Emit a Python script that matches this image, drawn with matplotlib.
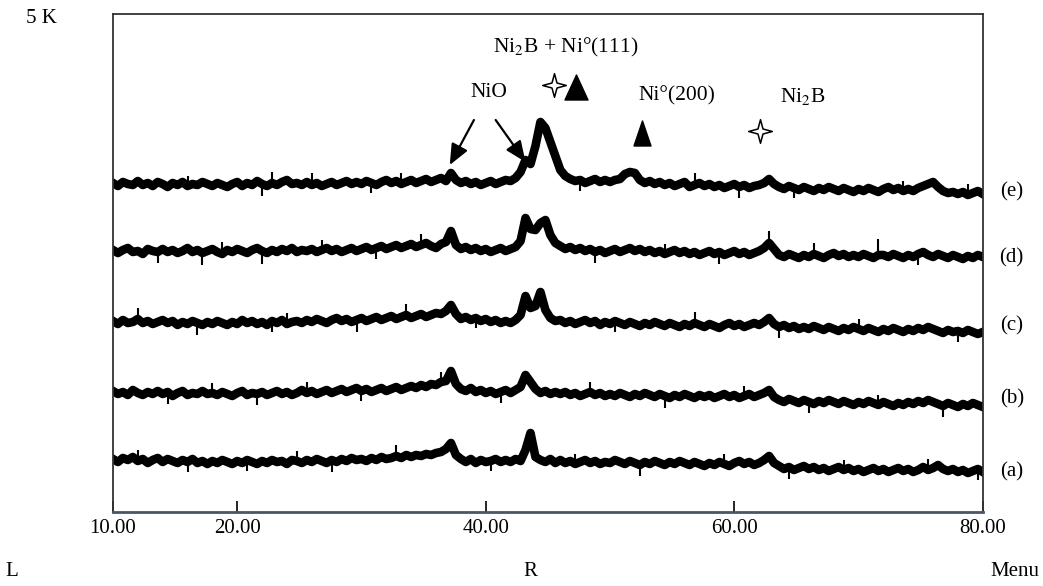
import matplotlib.pyplot as plt
from matplotlib.path import Path
import numpy as np

plt.rcParams['font.family'] = ['Liberation Serif', 'DejaVu Serif']
plt.rcParams['mathtext.fontset'] = 'stix'

# 2-theta scan positions (0.4 deg step)
two_theta = np.round(np.arange(10.0, 80.01, 0.4), 1)

pattern_labels = ['(a)', '(b)', '(c)', '(d)', '(e)']
baselines = [52, 119, 190, 261, 328]   # stacking offset of each pattern (a.u.)

# intensities, relative to each pattern's baseline (a.u.)
counts_a = [1, -2, 2, 0, 3, -1, 1, -3, 0, 2,
            -2, 1, -1, -3, 0, -2, 1, -3, -1, -4,
            -1, -3, 0, -2, -4, -1, -3, 0, -2, -4,
            -1, -3, 0, -2, -1, -4, 0, -1, -3, 0,
            -2, 1, -1, -3, 0, -2, 1, -1, 2, 0,
            1, -1, 2, 0, 3, 1, 2, 4, 2, 5,
            3, 5, 4, 6, 5, 7, 8, 11, 17, 5,
            1, -2, 1, -3, 0, -2, -1, 1, -2, 0,
            -2, 1, -1, 10, 27, 3, 0, -2, 1, -3,
            0, -3, -1, -4, -2, 0, -3, -1, -4, -2,
            -3, 0, -2, -4, -1, -3, -5, -2, -4, -1,
            -3, -5, -2, -4, -1, -3, -5, -2, -4, -6,
            -3, -5, -2, -4, -6, -3, -1, -4, -2, -5,
            -3, 0, 4, -3, -6, -9, -7, -10, -8, -6,
            -9, -7, -10, -8, -11, -9, -7, -10, -8, -11,
            -9, -12, -10, -8, -11, -9, -12, -10, -8, -11,
            -9, -12, -10, -7, -10, -8, -5, -9, -11, -9,
            -12, -10, -13, -11, -9, -12]

counts_b = [2, -1, 1, -2, 3, 0, -2, 1, -1, 2,
            -1, 1, -3, 0, 2, -2, 0, -1, 2, -1,
            0, -2, 1, -1, -3, 0, 2, -2, 0, -1,
            1, -2, 0, 2, -1, 1, -2, 0, 3, 0,
            2, -1, 1, 3, 0, 2, 4, 1, 3, 5,
            2, 4, 1, 3, 5, 2, 4, 6, 3, 5,
            7, 5, 8, 6, 9, 8, 11, 12, 22, 9,
            4, 2, 5, 1, 3, 0, 2, -1, 1, 3,
            0, 3, 6, 18, 11, 4, 0, 2, -1, 1,
            -1, 1, -2, 0, -3, -1, 1, -2, 0, -3,
            -1, -3, 0, -2, -4, -1, -3, 0, -2, -4,
            -1, -3, -5, -2, -4, -1, -3, -5, -2, -4,
            -2, -5, -3, -1, -4, -2, -5, -3, -1, -4,
            -2, 0, 3, -4, -7, -9, -6, -8, -10, -7,
            -9, -11, -8, -10, -7, -9, -11, -8, -10, -12,
            -9, -11, -8, -10, -12, -9, -11, -13, -10, -12,
            -9, -11, -8, -10, -7, -9, -11, -13, -10, -12,
            -14, -11, -13, -10, -12, -14]

counts_c = [1, -2, 2, -1, 0, 3, -1, 1, -2, 0,
            2, -1, 1, -3, 0, -2, 1, -1, -3, 0,
            -2, 1, -1, -3, 0, -2, 2, -1, 1, -2,
            0, -3, 1, -1, 2, -2, 0, 1, -1, 2,
            0, 3, 1, -1, 2, 4, 1, 3, 0, 2,
            4, 1, 3, 5, 2, 4, 6, 3, 5, 7,
            4, 6, 8, 5, 7, 9, 8, 11, 17, 8,
            3, 5, 2, 4, 1, 3, 0, 2, -1, 1,
            -1, 2, 7, 26, 14, 16, 30, 12, 4, 1,
            2, -1, 1, -2, 0, 2, -1, 1, -3, 0,
            -2, 1, -1, -3, 0, -2, -4, -1, -3, 0,
            -2, -4, -1, -3, -5, -2, -4, -1, -3, -5,
            -2, -4, -6, -3, -1, -4, -2, -5, -3, -1,
            -3, 0, 4, -2, -5, -3, -6, -4, -7, -5,
            -7, -4, -6, -8, -5, -7, -9, -6, -8, -5,
            -7, -9, -6, -8, -10, -7, -9, -6, -8, -10,
            -7, -9, -6, -8, -5, -7, -9, -11, -8, -10,
            -9, -11, -8, -10, -12, -10]

counts_d = [1, -2, 1, 3, -1, 0, -3, 2, 0, -1,
            2, -1, 1, -2, 0, 3, -1, 1, -2, 0,
            2, -1, -3, 1, -1, 2, 0, -2, 1, 3,
            0, -2, 1, -1, 2, 0, 3, -1, 1, 0,
            2, -1, 1, 3, 0, 2, -1, 1, 3, 0,
            2, 4, 1, 3, 5, 2, 4, 6, 3, 5,
            7, 4, 6, 8, 5, 3, 7, 9, 20, 6,
            2, 4, 1, 3, 0, 2, -1, 1, 3, 0,
            2, 4, 10, 33, 22, 21, 28, 31, 16, 8,
            5, 2, 4, 1, 3, 0, 2, -1, 1, -2,
            0, 2, -1, 1, 3, 0, 2, -1, 1, -2,
            0, -3, -1, 1, -2, 0, -3, -1, -4, -2,
            0, -3, -1, -4, -2, 0, -3, -1, -4, -2,
            0, 3, 8, 2, -4, -6, -3, -5, -7, -4,
            -6, -3, -5, -7, -4, -2, -5, -3, -6, -4,
            -6, -3, -5, -7, -4, -4, -6, -3, -5, -7,
            -4, -6, -3, -1, -4, -6, -3, -5, -7, -4,
            -6, -8, -5, -7, -4, -6]

counts_e = [1, -2, 2, 0, -1, 3, -1, 1, -2, 2,
            0, -3, 1, -1, 2, -2, 0, -1, 2, 0,
            -2, 1, -1, -3, 0, 2, -2, 1, -1, 3,
            0, -2, 1, -1, 2, 4, 0, 1, -1, 2,
            -1, 1, -2, 0, 2, -1, 1, 3, 0, 2,
            0, 3, 1, -1, 2, 4, 1, 3, 0, 2,
            4, 1, 3, 5, 2, 4, 6, 3, 11, 4,
            1, 3, 0, 2, -1, 1, 3, 0, 2, 4,
            3, 6, 12, 24, 20, 38, 62, 56, 42, 28,
            14, 8, 5, 3, 4, 1, 3, 5, 2, 4,
            2, 4, 5, 10, 12, 11, 4, 1, 3, 0,
            2, -1, 1, -2, 0, 2, -3, -1, 1, -2,
            0, -3, -1, -4, -2, 0, -3, -1, -4, -2,
            -1, 1, 5, 0, -3, -5, -2, -4, -6, -3,
            -5, -7, -4, -6, -3, -5, -7, -4, -6, -8,
            -5, -7, -4, -6, -8, -5, -3, -6, -4, -7,
            -5, -7, -4, -2, 0, 2, -3, -7, -9, -8,
            -10, -8, -11, -9, -7, -10]

patterns = [counts_a, counts_b, counts_c, counts_d, counts_e]

# isolated noise spikes seen on each scan: 2-theta and spike length (a.u.)
spike_pos = [
    [12.2, 15.8, 20.6, 24.6, 27.8, 32.6, 40.2, 47.4, 52.2, 59.4, 64.6, 69.0, 75.8, 79.4],
    [14.6, 18.2, 21.8, 25.8, 30.2, 36.2, 41.4, 48.2, 54.2, 61.0, 66.2, 71.4, 77.0],
    [11.8, 17.0, 22.6, 24.2, 29.8, 33.8, 39.4, 50.2, 56.6, 63.8, 70.2, 78.2],
    [13.4, 17.4, 18.6, 22.2, 27.0, 31.4, 35.0, 48.6, 54.2, 59.0, 62.8, 66.6, 71.6, 75.0],
    [16.2, 22.2, 23.0, 26.2, 30.6, 33.4, 47.8, 56.6, 60.2, 65.0, 73.4, 79.0],
]
spike_len = [
    [11, -10, -11, 10, -12, 11, -10, 10, -11, 10, -12, 10, 11, -11],
    [-12, 10, -11, 11, -10, 10, -11, 10, -12, 10, -11, 10, -11],
    [11, -12, -11, 11, -12, 11, -10, -11, 11, -11, 10, -11],
    [-11, -12, 12, -13, 10, -11, 11, -11, 10, -12, 12, 11, 16, -11],
    [10, -12, 11, 12, -10, 11, -11, 12, -11, -10, 10, 11],
]

xtick_vals = [10, 20, 40, 60, 80]
xtick_text = ['10.00', '20.00', '40.00', '60.00', '80.00']

# markers
star = Path.unit_regular_star(4, 0.3)
tri_big = Path([(-0.46, -0.5), (0.46, -0.5), (0, 0.5), (-0.46, -0.5)],
               [Path.MOVETO, Path.LINETO, Path.LINETO, Path.CLOSEPOLY])
tri_small = Path([(-0.34, -0.5), (0.34, -0.5), (0, 0.5), (-0.34, -0.5)],
                 [Path.MOVETO, Path.LINETO, Path.LINETO, Path.CLOSEPOLY])

fig = plt.figure(figsize=(10.43, 5.86), dpi=100)
ax = fig.add_axes([0.1083, 0.1263, 0.834, 0.8498])

for base, counts, sp, sl in zip(baselines, patterns, spike_pos, spike_len):
    y = base + np.array(counts)
    ax.plot(two_theta, y, color='black', lw=6.2, solid_joinstyle='round')
    idx = [int(np.argmin(np.abs(two_theta - p))) for p in sp]
    ax.vlines(two_theta[idx], y[idx], y[idx] + np.array(sl), color='black', lw=1.5)

ax.set_xlim(10, 80)
ax.set_ylim(0, 498)
ax.set_yticks([])
ax.set_xticks(xtick_vals)
ax.set_xticklabels(xtick_text)
ax.tick_params(axis='x', direction='in', length=8, width=1.2, pad=5,
               labelsize=15)
for side in ['left', 'top', 'right']:
    ax.spines[side].set_color('#333333')
    ax.spines[side].set_linewidth(1.3)
ax.spines['bottom'].set_color('#4a5566')
ax.spines['bottom'].set_linewidth(2)

fs = 15.5
ax.text(46.45, 465, 'Ni$_2$B + Ni°(111)', fontsize=fs, ha='center', va='center')
ax.text(40.25, 420, 'NiO', fontsize=fs, ha='center', va='center')
ax.text(55.4, 416, 'Ni°(200)', fontsize=fs, ha='center', va='center')
ax.text(65.5, 416, 'Ni$_2$B', fontsize=fs, ha='center', va='center')

ax.plot([45.5], [427], marker=star, ms=17, mfc='white', mec='black', mew=1.1)
ax.plot([62.1], [381], marker=star, ms=17, mfc='white', mec='black', mew=1.1)
ax.plot([47.3], [425], marker=tri_big, ms=18, color='black')
ax.plot([52.6], [379], marker=tri_small, ms=18, color='black')

arrow = dict(arrowstyle='-|>,head_length=0.7,head_width=0.3', color='black',
             lw=1.6, mutation_scale=18, shrinkA=0, shrinkB=0)
ax.annotate('', xy=(37.1, 347), xytext=(39.05, 392), arrowprops=arrow)
ax.annotate('', xy=(43.2, 350), xytext=(40.8, 392), arrowprops=arrow)

label_y = [0.195, 0.319, 0.444, 0.560, 0.672]
for lab, y in zip(pattern_labels, label_y):
    fig.text(0.970, y, lab, fontsize=15, ha='center', va='center')

fig.text(0.040, 0.968, '5 K', fontsize=15, ha='center', va='center')
fig.text(0.005, 0.024, 'L', fontsize=15, ha='left', va='center')
fig.text(0.508, 0.024, 'R', fontsize=15, ha='center', va='center')
fig.text(0.997, 0.024, 'Menu', fontsize=15, ha='right', va='center')

fig.savefig('out.png', dpi=100)
